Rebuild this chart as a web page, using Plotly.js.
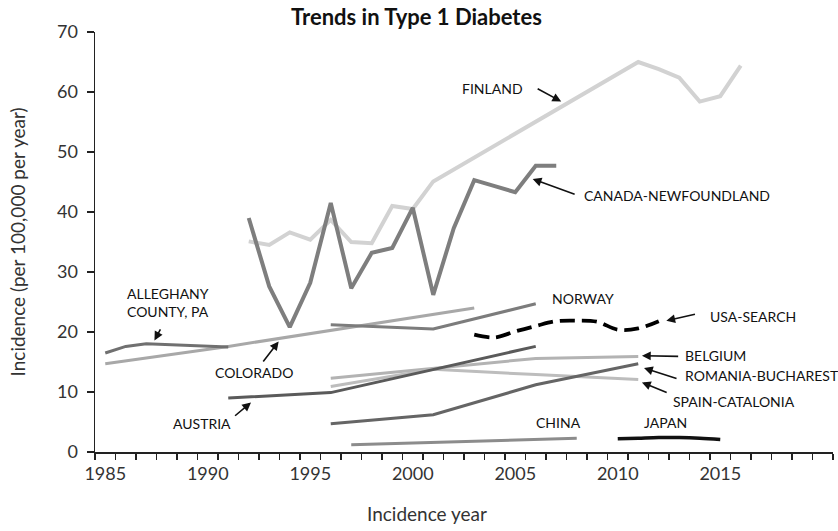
<!DOCTYPE html>
<html><head><meta charset="utf-8">
<script src="https://cdn.plot.ly/plotly-3.0.1.min.js"></script>
<style>html,body{margin:0;padding:0;background:#fff}#chart{width:838px;height:531px}</style>
</head><body><div id="chart"></div>
<script>
// ---- data ----
const finlandYears = [1992,1993,1994,1995,1996,1997,1998,1999,2000,2001,2011,2012,2013,2014,2015,2016];
const finlandVals  = [35.1,34.5,36.6,35.4,38.7,35.0,34.8,41.0,40.5,45.1,65.0,63.8,62.4,58.4,59.3,64.4];
const canadaYears = [1992,1993,1994,1995,1996,1997,1998,1999,2000,2001,2002,2003,2004,2005,2006,2007];
const canadaVals  = [39.0,27.6,20.8,28.2,41.5,27.3,33.2,34.0,40.7,26.2,37.3,45.3,44.3,43.3,47.7,47.7];
const alleghanyYears = [1985,1986,1987,1988,1989,1990,1991];
const alleghanyVals  = [16.5,17.6,18.05,17.9,17.7,17.6,17.5];
const coloradoYears = [1985,1991,2003];
const coloradoVals  = [14.7,17.6,24.0];
const norwayYears = [1996,2001,2006];
const norwayVals  = [21.2,20.5,24.7];
const usaYears = [2003,2004,2005,2006,2007,2008,2009,2010,2011,2012];
const usaVals  = [19.55,19.1,20.1,21.0,21.8,21.9,21.7,20.4,20.6,21.8];
const austriaYears = [1991,1996,2006];
const austriaVals  = [9.0,9.9,17.6];
const belgiumYears = [1996,2006,2011];
const belgiumVals  = [12.3,15.6,15.9];
const romaniaYears = [1996,2001,2006,2011];
const romaniaVals  = [4.7,6.2,11.2,14.7];
const spainYears = [1996,2001,2006,2011];
const spainVals  = [10.9,13.8,12.9,12.1];
const chinaYears = [1997,2008];
const chinaVals  = [1.2,2.3];
const japanYears = [2010,2011,2012,2013,2014,2015];
const japanVals  = [2.2,2.3,2.4,2.4,2.3,2.1];
const xTickVals = [1985,1990,1995,2000,2005,2010,2015];
const xTickText = ['1985','1990','1995','2000','2005','2010','2015'];

// ---- traces ----
function ln(x, y, color, width, extra) {
  return Object.assign({x: x, y: y, type: 'scatter', mode: 'lines',
    line: Object.assign({color: color, width: width}, extra || {}), hoverinfo: 'skip', showlegend: false});
}
const traces = [
  ln(coloradoYears, coloradoVals, '#a8a8a8', 3),
  ln(alleghanyYears, alleghanyVals, '#707070', 3),
  ln(finlandYears, finlandVals, '#d2d2d2', 4),
  ln(canadaYears, canadaVals, '#7e7e7e', 4),
  ln(norwayYears, norwayVals, '#7c7c7c', 3),
  ln(usaYears, usaVals, '#000000', 3.8, {dash: '15px,7px', shape: 'spline'}),
  ln(belgiumYears, belgiumVals, '#b3b3b3', 3),
  ln(spainYears, spainVals, '#bdbdbd', 3),
  ln(austriaYears, austriaVals, '#5a5a5a', 3),
  ln(romaniaYears, romaniaVals, '#656565', 3),
  ln(chinaYears, chinaVals, '#8c8c8c', 3),
  ln(japanYears, japanVals, '#111111', 3.5, {shape: 'spline'})
];

// ---- labels & arrows ----
const FAM = 'Lato, "Open Sans", sans-serif';
const labelFont = {family: FAM, size: 14, color: '#111'};
function txt(x, y, text, anchor) {
  return {x: x, y: y, xref: 'x', yref: 'y', text: text, showarrow: false,
    xanchor: anchor || 'center', yanchor: 'middle', align: 'left', font: labelFont};
}
function arr(tx, ty, hx, hy) {
  return {x: hx, y: hy, ax: tx, ay: ty, xref: 'x', yref: 'y', axref: 'x', ayref: 'y',
    text: '', showarrow: true, arrowhead: 2, arrowsize: 1.1, arrowwidth: 1.6,
    arrowcolor: '#111', standoff: 0, startstandoff: 0};
}
const annotations = [
  txt(2003.91, 60.55, 'FINLAND'),
  arr(2006.02, 60.67, 2007.24, 58.43),
  txt(2008.27, 42.72, 'CANADA-NEWFOUNDLAND', 'left'),
  arr(2007.97, 42.88, 2005.85, 45.5),
  txt(1985.97, 24.97, 'ALLEGHANY<br>COUNTY, PA', 'left'),
  arr(1987.73, 20.67, 1987.40, 18.6),
  txt(1992.27, 13.27, 'COLORADO'),
  arr(1992.65, 14.83, 1993.46, 18.43),
  txt(1989.72, 4.83, 'AUSTRIA'),
  arr(1991.26, 5.83, 1992.11, 8.27),
  txt(2008.3, 25.55, 'NORWAY'),
  txt(2014.38, 22.6, 'USA-SEARCH', 'left'),
  arr(2013.84, 23.0, 2012.37, 21.88),
  txt(2013.19, 16.05, 'BELGIUM', 'left'),
  arr(2013.02, 15.93, 2011.18, 16.05),
  txt(2013.19, 12.72, 'ROMANIA-BUCHAREST', 'left'),
  arr(2012.94, 12.17, 2011.28, 14.0),
  txt(2012.62, 8.43, 'SPAIN-CATALONIA', 'left'),
  arr(2012.46, 9.83, 2011.18, 11.6),
  txt(2007.12, 4.93, 'CHINA'),
  txt(2012.31, 4.93, 'JAPAN'),
  {x: 0.45, y: -0.146, xref: 'paper', yref: 'paper', text: 'Incidence year', showarrow: false,
    xanchor: 'center', yanchor: 'middle', font: {family: FAM, size: 19, color: '#333'}}
];

const axisFont = {family: FAM, size: 18, color: '#333'};
const layout = {
  width: 838, height: 531,
  margin: {l: 95, r: 5, t: 32, b: 79},
  paper_bgcolor: '#fff', plot_bgcolor: '#fff',
  title: {text: '<b>Trends in Type 1 Diabetes</b>', x: 0.497, xanchor: 'center', y: 0.967, yanchor: 'middle',
    font: {family: FAM, size: 22, color: '#111'}},
  xaxis: {range: [1984.5, 2020.5], showgrid: false, zeroline: false,
    showline: true, linecolor: '#222', linewidth: 1.5,
    tickmode: 'array', tickvals: xTickVals, ticktext: xTickText, ticks: '', ticklen: 0,
    minor: {tick0: 1984.5, dtick: 1, ticks: 'outside', ticklen: 6, tickcolor: '#222', tickwidth: 1.5, showgrid: false},
    tickfont: axisFont, ticklabelstandoff: 5},
  yaxis: {range: [0, 70], dtick: 10, showgrid: false, zeroline: false,
    showline: true, linecolor: '#222', linewidth: 1.5,
    ticks: 'outside', ticklen: 7, tickwidth: 1.5, tickcolor: '#222',
    tickfont: axisFont, ticklabelstandoff: 5,
    title: {text: 'Incidence (per 100,000 per year)', font: {family: FAM, size: 19, color: '#333'}, standoff: 26}},
  annotations: annotations
};
Plotly.newPlot('chart', traces, layout, {displayModeBar: false, staticPlot: true});
</script>
</body></html>
